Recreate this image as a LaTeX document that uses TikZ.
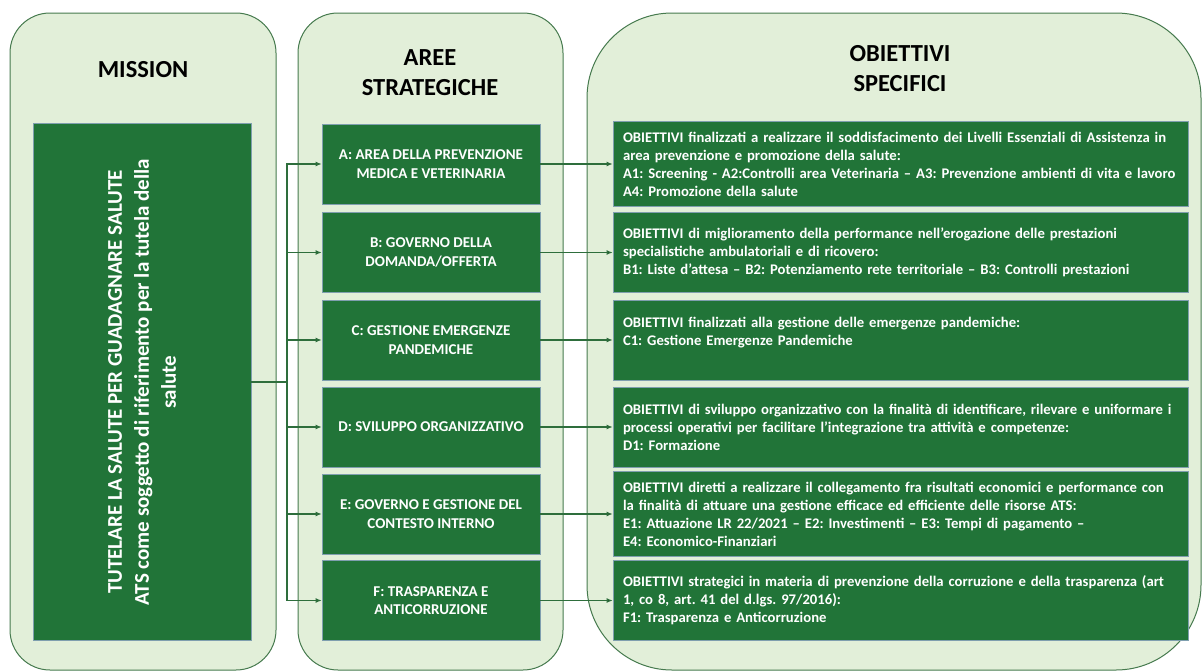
\documentclass[tikz,border=0pt]{standalone}
\usepackage{fontspec}
\setmainfont{Carlito}
\usepackage{tikz}
\usetikzlibrary{arrows.meta}
\frenchspacing

\definecolor{panelfill}{HTML}{E2EFD9}
\definecolor{paneldraw}{HTML}{467A4E}
\definecolor{boxfill}{HTML}{217438}
\definecolor{boxline}{HTML}{7F9FAF}
\definecolor{linkgreen}{HTML}{2E6E3C}

\tikzset{
	panel/.style={fill=panelfill, draw=paneldraw, line width=1pt},
	heading/.style={font=\fontsize{24.5}{30}\selectfont\bfseries, align=center},
	darkbox/.style={fill=boxfill, draw=boxline, line width=0.6pt, text=white},
	area/.style={darkbox, minimum width=218pt, minimum height=80pt, align=center, font=\fontsize{15}{18.5}\selectfont\bfseries},
	goal/.style={darkbox, text width=555pt, minimum height=80pt, inner sep=10pt, align=left, font=\fontsize{14.7}{18}\selectfont\bfseries},
	link/.style={draw=linkgreen, line width=1.4pt},
	arrow/.style={link, -{Latex[length=6pt,width=5pt]}}
}

\begin{document}
\begin{tikzpicture}[x=1pt, y=-1pt]
	\useasboundingbox (0,0) rectangle (1203,672);

	% columns
	\draw[panel, rounded corners=40pt] (10,13) rectangle (276,670);
	\draw[panel, rounded corners=40pt] (298,13) rectangle (563,670);
	\draw[panel, rounded corners=85pt] (587,13) rectangle (1201,670);

	\node[heading] (missiontitle) at (143,70) {MISSION};
	\node[heading] (areetitle) at (430,73) {AREE\\STRATEGICHE};
	\node[heading] (obiettivititle) at (900,69) {OBIETTIVI\\SPECIFICI};

	\node[darkbox, minimum width=218pt, minimum height=516pt] (mission) at (142,382)
		{\rotatebox{90}{\parbox{510pt}{\centering\bfseries\fontsize{21}{27}\selectfont
		TUTELARE LA SALUTE PER GUADAGNARE SALUTE\\
		ATS come soggetto di riferimento per la tutela della\\salute}}};

	\node[area] (a) at (431,164)   {A: AREA DELLA PREVENZIONE\\MEDICA E VETERINARIA};
	\node[area] (b) at (431,252.5) {B: GOVERNO DELLA\\DOMANDA/OFFERTA};
	\node[area] (c) at (431,340)   {C: GESTIONE EMERGENZE\\PANDEMICHE};
	\node[area] (d) at (431,427)   {D: SVILUPPO ORGANIZZATIVO};
	\node[area] (e) at (431,514)   {E: GOVERNO E GESTIONE DEL\\CONTESTO INTERNO};
	\node[area] (f) at (431,600.5) {F: TRASPARENZA E\\ANTICORRUZIONE};

	\node[goal] (a1) at (900.5,164)   {OBIETTIVI finalizzati a realizzare il soddisfacimento dei Livelli Essenziali di Assistenza in\\area prevenzione e promozione della salute:\\A1: Screening - A2:Controlli area Veterinaria – A3: Prevenzione ambienti di vita e lavoro\\A4: Promozione della salute};
	\node[goal] (b1) at (900.5,252.5) {OBIETTIVI di miglioramento della performance nell’erogazione delle prestazioni\\specialistiche ambulatoriali e di ricovero:\\B1: Liste d’attesa – B2: Potenziamento rete territoriale – B3: Controlli prestazioni};
	\node[goal] (c1) at (900.5,340)   {OBIETTIVI finalizzati alla gestione delle emergenze pandemiche:\\C1: Gestione Emergenze Pandemiche\\~};
	\node[goal] (d1) at (900.5,427)   {OBIETTIVI di sviluppo organizzativo con la finalità di identificare, rilevare e uniformare i\\processi operativi per facilitare l\char39 integrazione tra attività e competenze:\\D1: Formazione};
	\node[goal] (e1) at (900.5,514)   {OBIETTIVI diretti a realizzare il collegamento fra risultati economici e performance con\\la finalità di attuare una gestione efficace ed efficiente delle risorse ATS:\\E1: Attuazione LR 22/2021 – E2: Investimenti – E3: Tempi di pagamento –\\E4: Economico-Finanziari};
	\node[goal] (f1) at (900.5,600.5) {OBIETTIVI strategici in materia di prevenzione della corruzione e della trasparenza (art\\1, co 8, art. 41 del d.lgs. 97/2016):\\F1: Trasparenza e Anticorruzione};

	\coordinate (bus) at (287,382);

	\draw[link] (mission.east) -- (bus);
	\draw[arrow] (bus) |- (a);
	\draw[arrow] (bus) |- (b);
	\draw[arrow] (bus) |- (c);
	\draw[arrow] (bus) |- (d);
	\draw[arrow] (bus) |- (e);
	\draw[arrow] (bus) |- (f);

	\path[arrow] (a) edge (a1);
	\path[arrow] (b) edge (b1);
	\path[arrow] (c) edge (c1);
	\path[arrow] (d) edge (d1);
	\path[arrow] (e) edge (e1);
	\path[arrow] (f) edge (f1);
\end{tikzpicture}
\end{document}
